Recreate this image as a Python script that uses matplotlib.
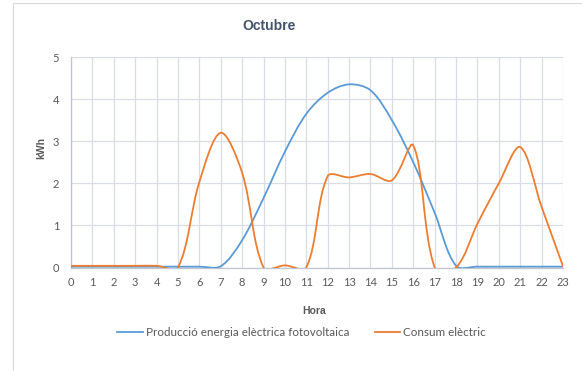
import numpy as np
import matplotlib
matplotlib.use('Agg')
import matplotlib.pyplot as plt
from matplotlib.path import Path
from matplotlib.patches import PathPatch, Rectangle
from matplotlib.lines import Line2D

# Hourly values (kWh), October
hores = list(range(24))
produccio = [0.02, 0.02, 0.02, 0.02, 0.02, 0.02, 0.02, 0.03, 0.65, 1.65, 2.75, 3.65,
             4.15, 4.35, 4.21, 3.5, 2.5, 1.3, 0.04, 0.02, 0.02, 0.02, 0.02, 0.02]
consum = [0.04, 0.04, 0.04, 0.04, 0.04, 0.0, 2.03, 3.2, 2.25, 0.0, 0.05, 0.0,
          2.17, 2.14, 2.22, 2.07, 2.9, 0.0, 0.0, 1.04, 2.0, 2.86, 1.44, 0.03]
noms = ['Producció energia elèctrica fotovoltaica', 'Consum elèctric']
colors = ['#5B9BD5', '#ED7D31']

TXT = '#595959'
GRID = '#D9DEE6'


def smooth_path(x, y, sx, sy):
    # spreadsheet-style smoothed line: one cubic Bezier per segment, with
    # tangents weighted by the neighbouring segment lengths (in screen units)
    px = np.asarray(x, float) * sx
    py = np.asarray(y, float) * sy
    n = len(px)

    def dist(i, j):
        return np.hypot(px[j] - px[i], py[j] - py[i])

    verts = [(px[0], py[0])]
    codes = [Path.MOVETO]
    for i in range(n - 1):
        i0 = max(i - 1, 0)
        i3 = min(i + 2, n - 1)
        d01, d12, d23 = dist(i0, i), dist(i, i + 1), dist(i + 1, i3)
        f1 = d12 / (d01 + d12) / 3
        f2 = d12 / (d12 + d23) / 3
        c1 = (px[i] + (px[i + 1] - px[i0]) * f1, py[i] + (py[i + 1] - py[i0]) * f1)
        c2 = (px[i + 1] - (px[i3] - px[i]) * f2, py[i + 1] - (py[i3] - py[i]) * f2)
        verts += [c1, c2, (px[i + 1], py[i + 1])]
        codes += [Path.CURVE4] * 3
    verts = [(vx / sx, vy / sy) for vx, vy in verts]
    return Path(verts, codes)


fig = plt.figure(figsize=(5.82, 3.71), dpi=100)
ax = fig.add_axes([71 / 582, 1 - 267.5 / 371, 492 / 582, 210.5 / 371])

# chart area border
fig.patches.append(Rectangle((13 / 582, -0.1), 1.2, 1 - 3 / 371 + 0.1,
                             transform=fig.transFigure, fill=False,
                             edgecolor='#D9D9D9', lw=0.8, zorder=0))

# pixels per unit, used for the smoothing
sx = 492 / 23
sy = 210.5 / 5
for serie, c in zip([produccio, consum], colors):
    ax.add_patch(PathPatch(smooth_path(hores, serie, sx, sy), fill=False,
                           edgecolor=c, lw=1.3, capstyle='round', zorder=3))

ax.set_xlim(0, 23)
ax.set_ylim(0, 5)
ax.set_xticks(hores)
ax.set_yticks(range(6))
ax.grid(True, color=GRID, lw=0.9)
ax.set_axisbelow(True)
for s in ['top', 'right']:
    ax.spines[s].set_visible(False)
for s in ['left', 'bottom']:
    ax.spines[s].set_color('#BFC6D2')
    ax.spines[s].set_linewidth(0.9)
ax.tick_params(length=0, labelsize=8, labelcolor=TXT)
ax.tick_params(axis='x', pad=6.5)
ax.tick_params(axis='y', pad=8.5)
for lab in ax.get_xticklabels() + ax.get_yticklabels():
    lab.set_fontfamily('Lato')

fig.text(269 / 582, 1 - 26.5 / 371, 'Octubre', ha='center', va='center',
         fontsize=10, fontweight='bold', color='#44546A', family='Liberation Sans')
fig.text(41 / 582, 1 - 148 / 371, 'kWh', rotation=90, ha='center', va='center',
         fontsize=7.5, fontweight='bold', color=TXT, family='Liberation Sans')
fig.text(314.5 / 582, 1 - 311.5 / 371, 'Hora', ha='center', va='center',
         fontsize=7.5, fontweight='bold', color=TXT, family='Liberation Sans')

handles = [Line2D([], [], color=c, lw=1.3) for c in colors]
fig.legend(handles, noms, loc='center', bbox_to_anchor=(301.5 / 582, 1 - 333 / 371),
           ncol=2, frameon=False, handlelength=2.2, handletextpad=0.25,
           columnspacing=2.2, prop={'family': 'Lato', 'size': 8.4},
           labelcolor=TXT)

fig.savefig('out.png', dpi=100)
